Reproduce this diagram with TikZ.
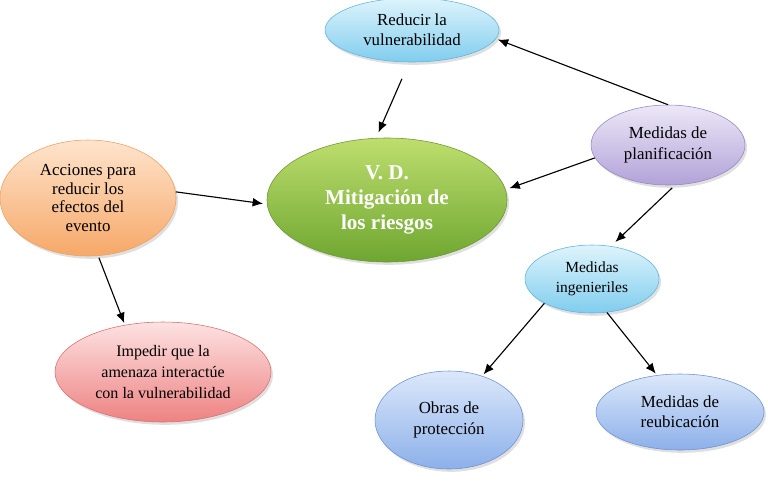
\documentclass[tikz,border=0pt]{standalone}
\usepackage{fontspec}
\setmainfont{Liberation Serif}
\usetikzlibrary{arrows.meta,shapes.geometric,shadows}

\definecolor{skytop}{RGB}{222,244,252}
\definecolor{skybot}{RGB}{128,205,238}
\definecolor{skyline}{RGB}{95,180,220}
\definecolor{leaftop}{RGB}{190,222,110}
\definecolor{leafbot}{RGB}{110,166,48}
\definecolor{leafline}{RGB}{110,150,50}
\definecolor{peachtop}{RGB}{254,228,205}
\definecolor{peachbot}{RGB}{246,168,104}
\definecolor{peachline}{RGB}{238,160,96}
\definecolor{rosetop}{RGB}{253,226,226}
\definecolor{rosebot}{RGB}{238,130,130}
\definecolor{roseline}{RGB}{220,110,110}
\definecolor{lilactop}{RGB}{236,232,247}
\definecolor{lilacbot}{RGB}{178,162,216}
\definecolor{lilacline}{RGB}{150,134,196}
\definecolor{bluetop}{RGB}{220,232,250}
\definecolor{bluebot}{RGB}{140,176,234}
\definecolor{blueline}{RGB}{110,145,210}

\begin{document}
\begin{tikzpicture}[auto=left,
    bubble/.style={ellipse, draw, inner sep=0pt, align=center, font=\fontsize{12}{14.5}\selectfont,
      drop shadow={opacity=0.25, shadow xshift=0.5mm, shadow yshift=-0.7mm}},
    cyanb/.style={bubble, top color=skytop, bottom color=skybot, draw=skyline},
    greenb/.style={bubble, top color=leaftop, bottom color=leafbot, draw=leafline},
    orangeb/.style={bubble, top color=peachtop, bottom color=peachbot, draw=peachline},
    redb/.style={bubble, top color=rosetop, bottom color=rosebot, draw=roseline},
    purpleb/.style={bubble, top color=lilactop, bottom color=lilacbot, draw=lilacline},
    blueb/.style={bubble, top color=bluetop, bottom color=bluebot, draw=blueline},
    link/.style={-{Latex[length=2.6mm,width=2.2mm]}, thick}]
    \useasboundingbox (0,0) rectangle (19.2,-12.2);
    \node (A) [cyanb, minimum width=4.35cm, minimum height=1.6cm] at (10.3, -0.75) {Reducir la\\vulnerabilidad};
    \node (B) [greenb, minimum width=6cm, minimum height=3.1cm, text=white,
      font=\fontsize{15}{17.5}\selectfont\bfseries] at (9.675, -5.0) {V. D.\\Mitigación de\\los riesgos};
    \node (C) [orangeb, minimum width=4.4cm, minimum height=2.9cm, font=\fontsize{12}{13.5}\selectfont] at (2.2, -4.95) {Acciones para\\reducir los\\efectos del\\evento};
    \node (D) [redb, minimum width=5.4cm, minimum height=2.5cm, font=\fontsize{11.4}{15}\selectfont] at (4.075, -9.3) {Impedir que la\\amenaza interactúe\\con la vulnerabilidad};
    \node (E) [purpleb, minimum width=3.85cm, minimum height=2cm] at (16.7, -3.625) {Medidas de\\planificación};
    \node (F) [cyanb, minimum width=3.35cm, minimum height=1.7cm, font=\fontsize{11}{14.5}\selectfont] at (14.8, -6.975) {Medidas\\ingenieriles};
    \node (G) [blueb, minimum width=3.7cm, minimum height=2.45cm, font=\fontsize{12}{15.5}\selectfont] at (11.225, -10.5) {Obras de\\protección};
    \node (H) [blueb, minimum width=4.2cm, minimum height=1.9cm] at (17.0, -10.3) {Medidas de\\reubicación};
    \draw[link,shorten <=4.5mm,shorten >=1.5mm] (A.-95) -- (B.100);
    \draw[link,shorten >=0.5mm] (E.north) -- (A.-6);
    \draw[link,shorten >=1mm] (E.190) -- (B.5);
    \draw[link,shorten <=1mm,shorten >=1.5mm] (E.-80) -- (F.60);
    \draw[link,shorten >=1mm] (C.4) -- (B.182);
    \draw[link,shorten <=0.5mm,shorten >=0.5mm] (C.-80) -- (D.129);
    \draw[link,shorten >=0.5mm] (F.207) -- (G.53);
    \draw[link,shorten >=0.5mm] (F.-66) -- (H.122);
  \end{tikzpicture}
\end{document}
